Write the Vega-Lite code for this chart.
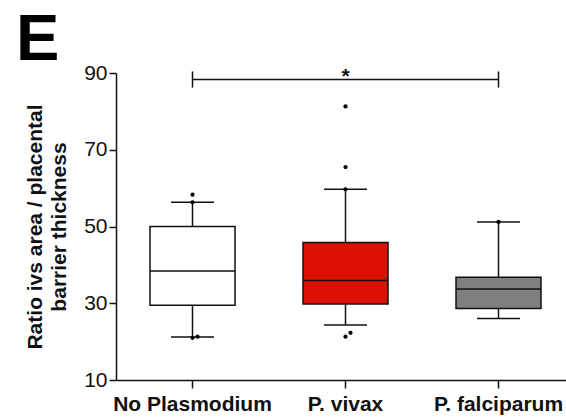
{
  "$schema": "https://vega.github.io/schema/vega-lite/v6.json",
  "width": 459,
  "height": 307,
  "autosize": {"type": "none"},
  "padding": {"left": 116, "top": 73, "right": 0, "bottom": 40},
  "background": "white",
  "config": {
    "view": {"stroke": null},
    "font": "Liberation Sans",
    "axis": {
      "grid": false,
      "domainColor": "#111111",
      "domainWidth": 1.5,
      "tickColor": "#111111",
      "tickWidth": 1.5,
      "labelColor": "#111111",
      "labelFont": "Liberation Sans",
      "titleFont": "Liberation Sans",
      "titleColor": "#111111"
    }
  },
  "title": {
    "text": "E",
    "fontSize": 65,
    "fontWeight": "bold",
    "font": "Liberation Sans",
    "color": "#000000",
    "anchor": "start",
    "frame": "group",
    "baseline": "alphabetic",
    "dx": -100,
    "dy": 69,
    "offset": 6
  },
  "datasets": {
    "boxes": [
      {"group": "No Plasmodium", "lower": 21.2, "q1": 29.5, "median": 38.4, "q3": 50.0, "upper": 56.3},
      {"group": "P. vivax", "lower": 24.3, "q1": 29.8, "median": 35.9, "q3": 45.8, "upper": 59.7},
      {"group": "P. falciparum", "lower": 26.0, "q1": 28.6, "median": 33.7, "q3": 36.8, "upper": 51.2}
    ],
    "dots": [
      {"group": "No Plasmodium", "value": 58.3, "k": 0},
      {"group": "No Plasmodium", "value": 56.3, "k": 0},
      {"group": "No Plasmodium", "value": 21.0, "k": 0},
      {"group": "No Plasmodium", "value": 21.3, "k": 1},
      {"group": "P. vivax", "value": 81.3, "k": 0},
      {"group": "P. vivax", "value": 65.5, "k": 0},
      {"group": "P. vivax", "value": 59.7, "k": 0},
      {"group": "P. vivax", "value": 21.3, "k": 0},
      {"group": "P. vivax", "value": 22.3, "k": 1},
      {"group": "P. falciparum", "value": 51.2, "k": 0}
    ],
    "sig": [
      {"from": "No Plasmodium", "to": "P. falciparum", "mid": "P. vivax", "y": 88.3, "label": "*"}
    ],
    "caps": [
      {"group": "No Plasmodium", "lo": 86.2, "hi": 90.4},
      {"group": "P. falciparum", "lo": 86.2, "hi": 90.4}
    ]
  },
  "encoding": {
    "x": {
      "field": "group",
      "type": "nominal",
      "sort": ["No Plasmodium", "P. vivax", "P. falciparum"],
      "scale": {"domain": ["No Plasmodium", "P. vivax", "P. falciparum"], "paddingInner": 0, "paddingOuter": 0},
      "axis": {
        "title": null,
        "labelAngle": 0,
        "labelFontSize": 21,
        "labelFontWeight": "bold",
        "tickSize": 8,
        "labelPadding": 5
      }
    }
  },
  "layer": [
    {
      "data": {"name": "boxes"},
      "mark": {"type": "rule", "color": "#111111", "strokeWidth": 1.5},
      "encoding": {
        "y": {
          "field": "lower",
          "type": "quantitative",
          "scale": {"domain": [10, 90], "nice": false, "zero": false},
          "axis": {
            "values": [10, 30, 50, 70, 90],
            "labelFontSize": 21,
            "tickSize": 7,
            "labelPadding": 2,
            "title": ["Ratio ivs area / placental", "barrier thickness"],
            "titleFontSize": 21,
            "titleFontWeight": "bold",
            "titleLineHeight": 24,
            "titlePadding": 14
          }
        },
        "y2": {"field": "upper"}
      }
    },
    {
      "data": {"name": "boxes"},
      "mark": {"type": "bar", "size": 85, "stroke": "#111111", "strokeWidth": 1.5},
      "encoding": {
        "y": {"field": "q1", "type": "quantitative"},
        "y2": {"field": "q3"},
        "fill": {
          "field": "group",
          "type": "nominal",
          "scale": {"domain": ["No Plasmodium", "P. vivax", "P. falciparum"], "range": ["#ffffff", "#dc1005", "#7f7f7f"]},
          "legend": null
        }
      }
    },
    {
      "data": {"name": "boxes"},
      "mark": {"type": "tick", "size": 85, "thickness": 1.5, "color": "#111111", "opacity": 1},
      "encoding": {"y": {"field": "median", "type": "quantitative"}}
    },
    {
      "data": {"name": "boxes"},
      "mark": {"type": "tick", "size": 43, "thickness": 1.5, "color": "#111111", "opacity": 1},
      "encoding": {"y": {"field": "upper", "type": "quantitative"}}
    },
    {
      "data": {"name": "boxes"},
      "mark": {"type": "tick", "size": 43, "thickness": 1.5, "color": "#111111", "opacity": 1},
      "encoding": {"y": {"field": "lower", "type": "quantitative"}}
    },
    {
      "data": {"name": "dots"},
      "transform": [{"filter": "datum.k == 0"}],
      "mark": {"type": "point", "filled": true, "color": "#000000", "size": 18, "opacity": 1},
      "encoding": {"y": {"field": "value", "type": "quantitative"}}
    },
    {
      "data": {"name": "dots"},
      "transform": [{"filter": "datum.k == 1"}],
      "mark": {"type": "point", "filled": true, "color": "#000000", "size": 18, "opacity": 1, "xOffset": 5},
      "encoding": {"y": {"field": "value", "type": "quantitative"}}
    },
    {
      "data": {"name": "sig"},
      "mark": {"type": "rule", "color": "#111111", "strokeWidth": 1.5},
      "encoding": {
        "x": {"field": "from", "type": "nominal"},
        "x2": {"field": "to"},
        "y": {"field": "y", "type": "quantitative"}
      }
    },
    {
      "data": {"name": "caps"},
      "mark": {"type": "rule", "color": "#111111", "strokeWidth": 1.5},
      "encoding": {
        "y": {"field": "lo", "type": "quantitative"},
        "y2": {"field": "hi"}
      }
    },
    {
      "data": {"name": "sig"},
      "mark": {"type": "text", "fontSize": 21, "fontWeight": "bold", "baseline": "alphabetic", "dy": 3, "color": "#111111"},
      "encoding": {
        "x": {"field": "mid", "type": "nominal"},
        "y": {"field": "y", "type": "quantitative"},
        "text": {"field": "label"}
      }
    }
  ]
}
